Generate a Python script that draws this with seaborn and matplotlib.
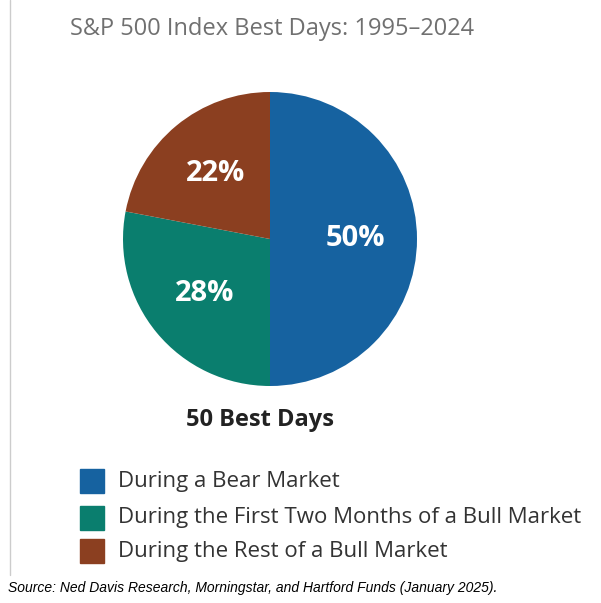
import matplotlib
matplotlib.use("Agg")
import matplotlib.pyplot as plt
import seaborn as sns
from matplotlib.patches import Rectangle

sns.set_theme(style="white")
plt.rcParams['font.family'] = ['Open Sans', 'DejaVu Sans']

categories = ["During a Bear Market",
              "During the First Two Months of a Bull Market",
              "During the Rest of a Bull Market"]
values = [50, 28, 22]
colors = ["#1662a0", "#0a7e6e", "#8b3f20"]

W, H = 601, 603
fig = plt.figure(figsize=(W/100, H/100), dpi=100)
fig.patch.set_facecolor("white")

cx, cy, r = 270, 239, 147
ax = fig.add_axes([(cx-r)/W, 1-(cy+r)/H, 2*r/W, 2*r/H])
ax.pie(values, colors=colors, startangle=90, counterclock=False,
       autopct=lambda p: f"{p:.0f}%", pctdistance=0.58,
       textprops=dict(color="white", fontsize=21, fontweight="bold"),
       wedgeprops=dict(linewidth=0))
ax.set_xlim(-1, 1); ax.set_ylim(-1, 1); ax.set_aspect("equal"); ax.axis("off")

fig.text(70/W, 1-29/H, "S&P 500 Index Best Days: 1995–2024", fontsize=17,
         color="#707070", va="center", ha="left")
fig.add_artist(plt.Line2D([10/W, 10/W], [1-0/H, 1-575/H], color="#cccccc", lw=1))
fig.text(260/W, 1-420/H, "50 Best Days", fontsize=17, fontweight="bold",
         color="#222222", ha="center", va="center")

ys = [481, 518, 551]
for lab, c, y in zip(categories, colors, ys):
    fig.add_artist(Rectangle((80/W, 1-(y+12)/H), 24/W, 24/H, color=c,
                             transform=fig.transFigure))
    fig.text(118/W, 1-y/H, lab, fontsize=16, color="#333333", va="center", ha="left")

fig.text(8/W, 1-588/H,
         "Source: Ned Davis Research, Morningstar, and Hartford Funds (January 2025).",
         fontsize=10, style="italic", family=["Liberation Sans", "DejaVu Sans"],
         color="black", va="center", ha="left")

fig.savefig("out.png", dpi=100)
